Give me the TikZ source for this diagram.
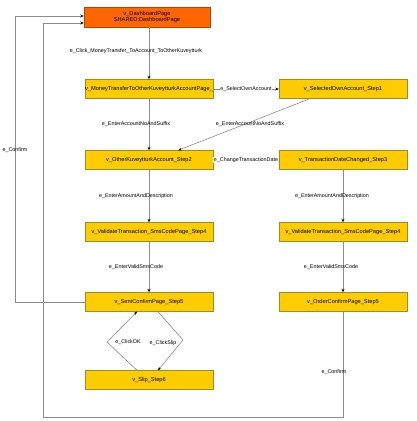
\documentclass[tikz,border=0pt]{standalone}
\usepackage{fontspec}
\setmainfont{Liberation Sans}
\usepackage{xcolor}
\usetikzlibrary{arrows.meta, positioning, calc}
\definecolor{stategold}{HTML}{FFCC00}
\definecolor{stateedge}{HTML}{9C8A2E}
\definecolor{startorange}{HTML}{FF6600}
\definecolor{edgegray}{HTML}{8C8C8C}
\begin{document}
\begin{tikzpicture}[x=1bp, y=-1bp,
		state/.style={draw=stateedge, fill=stategold, minimum width=128bp, minimum height=19bp, inner sep=0pt, font=\fontsize{5.7}{6.4}\selectfont},
		start/.style={state, fill=startorange, draw=startorange!70!black, minimum width=126bp, minimum height=20bp, align=center},
		trans/.style={draw=edgegray, line width=0.6pt, -{Stealth[length=3.5pt, width=3pt, color=black]}},
		lbl/.style={font=\fontsize{5.4}{6}\selectfont, inner sep=0.5pt},
		lblw/.style={lbl, fill=white}]
	\useasboundingbox (0,0) rectangle (417,421);
	% states
	\node[start] (dash) at (147,17) {v\_DashboardPage\\SHARED:DashboardPage};
	\node[state] (money) at (149,89) {v\_MoneyTransferToOtherKuveytturkAccountPage\_};
	\node[state] (own) at (343,89) {v\_SelectedOwnAccount\_Step1};
	\node[state] (other) at (149,160) {v\_OtherKuveytturkAccount\_Step2};
	\node[state] (date) at (343,160) {v\_TransactionDateChanged\_Step3};
	\node[state] (valL) at (149,232) {v\_ValidateTransaction\_SmsCodePage\_Step4};
	\node[state] (valR) at (343,232) {v\_ValidateTransaction\_SmsCodePage\_Step4};
	\node[state] (sent) at (149,302) {v\_SentConfirmPage\_Step5};
	\node[state] (order) at (343,302) {v\_OrderConfirmPage\_Step5};
	\node[state] (slip) at (149,380) {v\_Slip\_Step6};
	% transitions
	\draw[trans] (dash.south -| money.north) -- (money.north)
		node[lbl, pos=0.45, xshift=-13bp] {e\_Click\_MoneyTransfer\_ToAccount\_ToOtherKuveytturk};
	\draw[trans] (money) -- (own) node[lblw, midway] {e\_SelectOwnAccount};
	\draw[trans] (money) -- (other) node[lbl, midway, xshift=-13bp] {e\_EnterAccountNoAndSuffix};
	\draw[trans] (own.south west) ++(31,0) -- ($(other.north east)+(-35,0)$)
		node[lbl, pos=0.5, xshift=6bp] {e\_EnterAccountNoAndSuffix};
	\draw[trans] (other) -- (date) node[lblw, midway] {e\_ChangeTransactionDate};
	\draw[trans] (other) -- (valL) node[lbl, midway, xshift=-13bp] {e\_EnterAmountAndDescription};
	\draw[trans] (date) -- (valR) node[lbl, midway, xshift=-11bp] {e\_EnterAmountAndDescription};
	\draw[trans] (valL) -- (sent) node[lbl, midway, xshift=-13bp] {e\_EnterValidSmsCode};
	\draw[trans] (valR) -- (order) node[lbl, midway, xshift=-12bp] {e\_EnterValidSmsCode};
	\draw[trans] ($(slip.north)+(-12,0)$) -- (107,342) -- ($(sent.south)+(-12,0)$);
	\draw[trans] ($(sent.south)+(9,0)$) -- (183,340) -- ($(slip.north)+(9,0)$);
	\node[lbl] (okl) at (128,342) {e\_ClickOK};
	\node[lbl] (slipl) at (163,343) {e\_ClickSlip};
	\coordinate (backA) at (15,302);
	\coordinate (backB) at (43,417);
	\draw[trans] (sent.west) -- (backA) -- (backA |- 0,16) -- (dash.west |- 0,16);
	\node[lbl] (confA) at (15,150) {e\_Confirm};
	\draw[trans] (order.south) -- (order.south |- backB) -- (backB) -- (backB |- 0,23) -- (dash.west |- 0,23);
	\node[lbl] (confB) at (334,372) {e\_Confirm};
\end{tikzpicture}
\end{document}
